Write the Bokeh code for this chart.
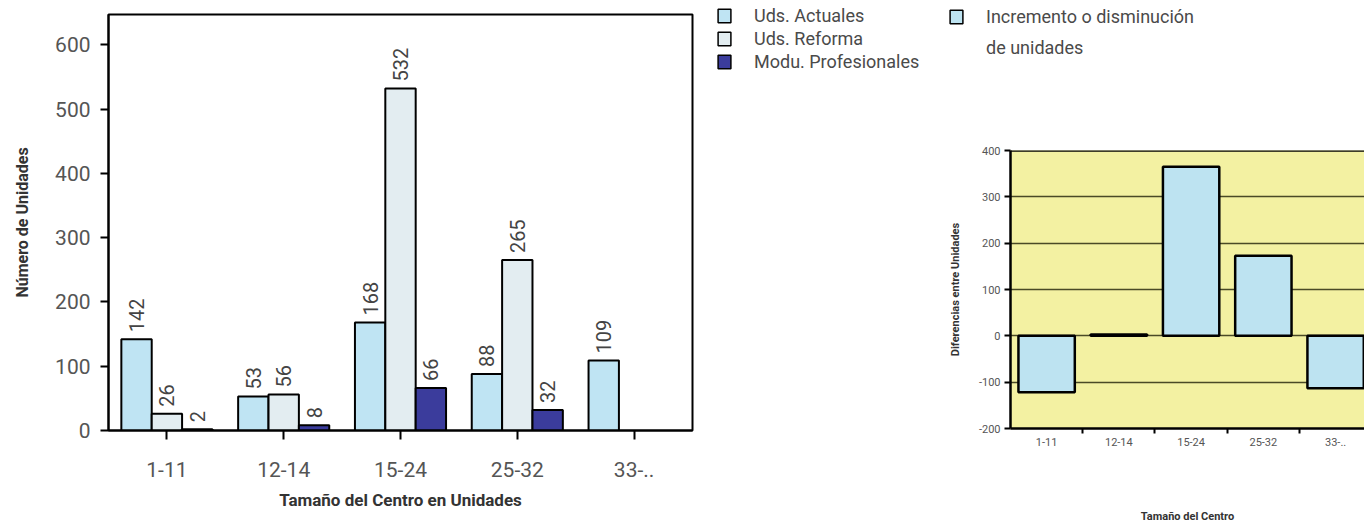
import math
import numpy as np
from bokeh.plotting import figure
from bokeh.layouts import row, column
from bokeh.models import (ColumnDataSource, FactorRange, Range1d, FixedTicker,
                          Legend, LegendItem, Span)
from bokeh.transform import dodge
from bokeh.core.properties import value
from bokeh.embed import file_html
from bokeh.resources import INLINE

# ---------------- data ----------------
categories = ["1-11", "12-14", "15-24", "25-32", "33-.."]
uds_actuales = [142, 53, 168, 88, 109]
uds_reforma = [26, 56, 532, 265, None]
modu_profesionales = [2, 8, 66, 32, None]
diferencias = [-122, 3, 365, 173, -113]
left_y_ticks = [0, 100, 200, 300, 400, 500, 600]
right_y_ticks = [-200, -100, 0, 100, 200, 300, 400]
right_grid_ticks = [-100, 0, 100, 200, 300]
series_names = ["Uds. Actuales", "Uds. Reforma", "Modu. Profesionales"]
diff_lines = ["Incremento o disminución", "de unidades"]

FONT = "Roboto"
COL_ACT = "#bfe4f3"
COL_REF = "#e3edf1"
COL_MOD = "#3b3c9c"
COL_DIF = "#bde3f1"
BG_YEL = "#f3f1a2"


def src(vals):
    cats = [c for c, v in zip(categories, vals) if v is not None]
    vs = [v for v in vals if v is not None]
    return ColumnDataSource(dict(cat=cats, val=vs, lab=[str(v) for v in vs]))


def style_legend(lg, spacing):
    lg.border_line_color = None
    lg.background_fill_alpha = 0
    lg.padding = 0
    lg.margin = 0
    lg.spacing = spacing
    lg.glyph_height = 17
    lg.glyph_width = 16
    lg.label_height = 18
    lg.label_standoff = 22
    lg.label_text_font = FONT
    lg.label_text_font_size = "18px"
    lg.label_text_color = "#4a4a4a"
    lg.label_text_baseline = "middle"


# ---------------- left chart ----------------
left = figure(x_range=FactorRange(*categories), y_range=Range1d(0, 647),
              width=700, height=530, output_backend="svg", toolbar_location=None,
              min_border_left=108, min_border_right=8, min_border_top=14,
              min_border_bottom=100)
left.outline_line_color = "black"
left.outline_line_width = 2
left.grid.visible = False

offsets = [-0.26, 0.0, 0.26]
colors = [COL_ACT, COL_REF, COL_MOD]
for vals, off, col in zip([uds_actuales, uds_reforma, modu_profesionales], offsets, colors):
    s = src(vals)
    left.vbar(x=dodge("cat", off, range=left.x_range), top="val", width=0.26,
              source=s, fill_color=col, line_color="black", line_width=2)
    left.text(x=dodge("cat", off, range=left.x_range), y="val", text="lab", source=s,
              angle=math.pi / 2, text_align="left", text_baseline="middle",
              y_offset=-7, text_font=value(FONT), text_font_size="20px",
              text_color="#444444")

ya = left.yaxis[0]
ya.ticker = FixedTicker(ticks=left_y_ticks)
ya.major_tick_out = 8
ya.major_tick_in = 0
ya.minor_tick_line_color = None
ya.major_tick_line_width = 2
ya.axis_line_width = 2
ya.major_label_text_font = FONT
ya.major_label_text_font_size = "21px"
ya.major_label_text_color = "#555555"
ya.major_label_standoff = 10
ya.axis_label = "Número de Unidades"
ya.axis_label_text_font = FONT
ya.axis_label_text_font_style = "bold"
ya.axis_label_text_font_size = "16px"
ya.axis_label_text_color = "#333333"
ya.axis_label_standoff = 20

xa = left.xaxis[0]
xa.major_tick_out = 9
xa.major_tick_in = 0
xa.major_tick_line_width = 2
xa.axis_line_width = 2
xa.major_label_text_font = FONT
xa.major_label_text_font_size = "21px"
xa.major_label_text_color = "#555555"
xa.major_label_standoff = 22
xa.axis_label = "Tamaño del Centro en Unidades"
xa.axis_label_text_font = FONT
xa.axis_label_text_font_style = "bold"
xa.axis_label_text_font_size = "17px"
xa.axis_label_text_color = "#333333"
xa.axis_label_standoff = 10

# ---------------- legend panel ----------------
leg = figure(width=664, height=142, x_range=Range1d(0, 1), y_range=Range1d(0, 1),
             output_backend="svg", toolbar_location=None, min_border=0,
             x_axis_location=None, y_axis_location=None, frame_align=False)
leg.grid.visible = False
leg.outline_line_color = None

# swatch-only renderers (NaN data: nothing drawn in the panel itself)
NAN = np.array([np.nan])
leg_rends = [leg.vbar(x=NAN, top=NAN, width=0.1, fill_color=col,
                      line_color="black", line_width=1.5)
             for col in colors]
leg_diff = leg.vbar(x=NAN, top=NAN, width=0.1, fill_color=COL_DIF,
                    line_color="black", line_width=1.5)
leg_blank = leg.vbar(x=[], top=[], width=0.1, fill_alpha=0, line_alpha=0)

legend1 = Legend(items=[LegendItem(label=n, renderers=[r])
                        for n, r in zip(series_names, leg_rends)],
                 location=(16, 70))
style_legend(legend1, 2)
leg.add_layout(legend1)

legend2 = Legend(items=[LegendItem(label=diff_lines[0], renderers=[leg_diff]),
                        LegendItem(label=diff_lines[1], renderers=[leg_blank])],
                 location=(248, 84))
style_legend(legend2, 10)
leg.add_layout(legend2)

# ---------------- right chart ----------------
xc = [i + 0.5 for i in range(len(categories))]
right = figure(x_range=Range1d(0, 4.9), y_range=Range1d(-200, 400),
               width=664, height=388, output_backend="svg", toolbar_location=None,
               min_border_left=310, min_border_right=0, min_border_top=8,
               min_border_bottom=102, background_fill_color=BG_YEL,
               frame_align=False)
right.outline_line_color = None
right.xgrid.visible = False
right.ygrid.ticker = FixedTicker(ticks=right_grid_ticks)
right.ygrid.grid_line_color = "#4a4a26"
right.ygrid.grid_line_width = 1.6

right.vbar(x=xc, top=diferencias, bottom=0, width=0.78, fill_color=COL_DIF,
           line_color="black", line_width=2.5)
right.add_layout(Span(location=right_y_ticks[-1], dimension="width",
                      line_color="black", line_width=2.5))

rya = right.yaxis[0]
rya.ticker = FixedTicker(ticks=right_y_ticks)
rya.major_label_overrides = {t: str(t) for t in right_y_ticks}
rya.major_tick_out = 6
rya.major_tick_in = 0
rya.major_tick_line_width = 2
rya.minor_tick_line_color = None
rya.axis_line_width = 2.5
rya.major_label_text_font = FONT
rya.major_label_text_font_size = "11px"
rya.major_label_text_color = "#555555"
rya.major_label_standoff = 4
rya.axis_label = "Diferencias entre Unidades"
rya.axis_label_text_font = FONT
rya.axis_label_text_font_style = "bold"
rya.axis_label_text_font_size = "11px"
rya.axis_label_text_color = "#333333"
rya.axis_label_standoff = 14

rxa = right.xaxis[0]
rxa.ticker = FixedTicker(ticks=xc, minor_ticks=[1, 2, 3, 4])
rxa.major_label_overrides = {x: c for x, c in zip(xc, categories)}
rxa.major_tick_out = 0
rxa.major_tick_in = 0
rxa.minor_tick_out = 5
rxa.minor_tick_in = 0
rxa.minor_tick_line_width = 2
rxa.axis_line_width = 2.5
rxa.major_label_text_font = FONT
rxa.major_label_text_font_size = "11px"
rxa.major_label_text_color = "#555555"
rxa.major_label_standoff = 4
rxa.axis_label = "Tamaño del Centro"
rxa.axis_label_text_font = FONT
rxa.axis_label_text_font_style = "bold"
rxa.axis_label_text_font_size = "11px"
rxa.axis_label_text_color = "#333333"
rxa.axis_label_standoff = 61

layout = row(left, column(leg, right))

with open("out.html", "w") as f:
    f.write(file_html(layout, INLINE))
